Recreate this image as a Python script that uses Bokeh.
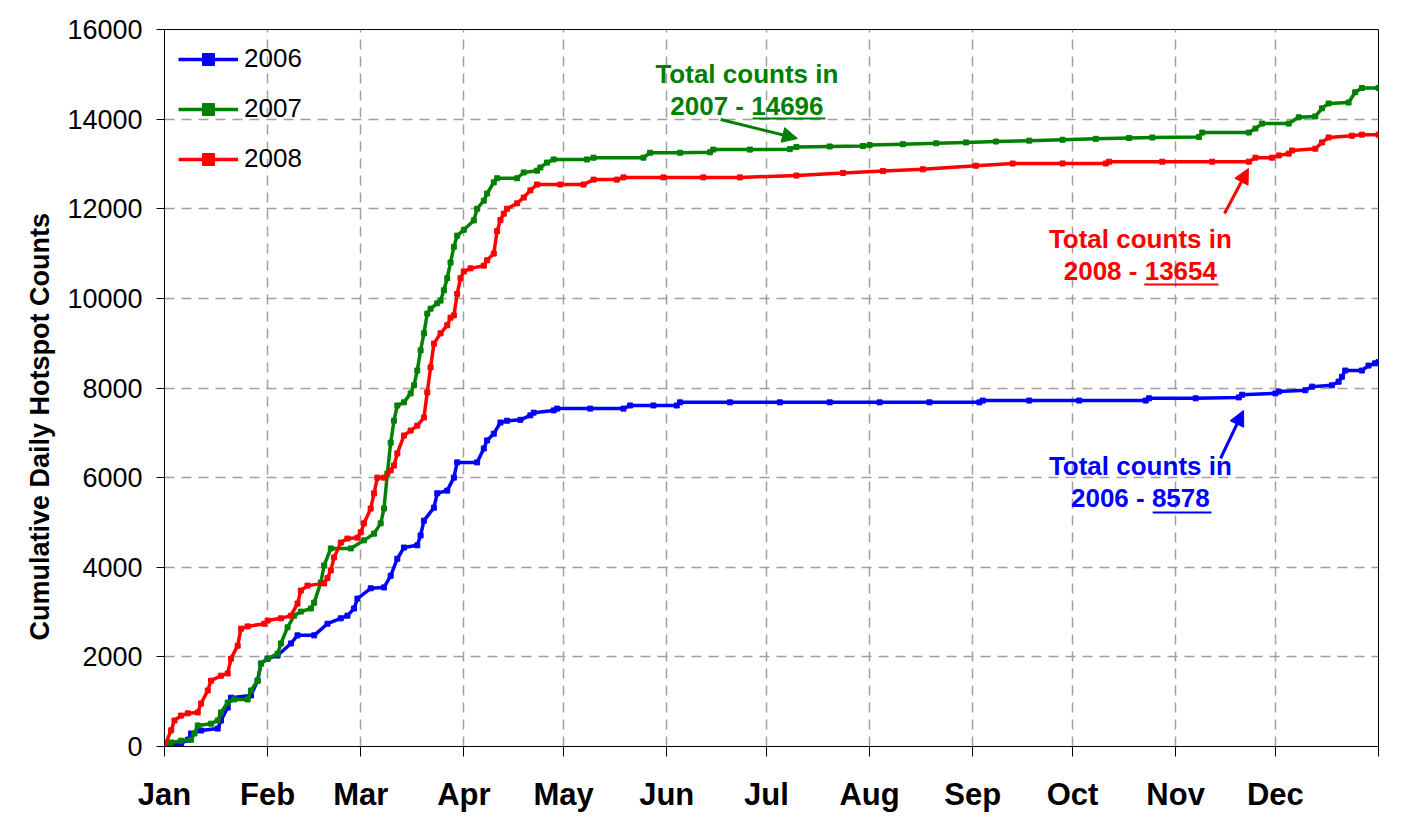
from bokeh.plotting import figure
from bokeh.models import FixedTicker, Legend, LegendItem, Label, Arrow, NormalHead, Title
from bokeh.embed import file_html
from bokeh.resources import INLINE

# ---------------- data (day of year, cumulative hotspot counts) ----------------
days_2006 = [0, 3, 5, 7, 8, 11, 16, 17, 19, 20, 26, 28, 29, 31, 34, 38, 40, 45, 49, 53, 55, 57, 58,
             62, 66, 68, 70, 72, 76, 77, 78, 81, 82, 85, 87, 88, 94, 96, 97, 99, 101, 103, 107, 110,
             111, 117, 118, 128, 138, 140, 147, 154, 155, 170, 185, 200, 215, 230, 245, 246, 260,
             275, 295, 296, 310, 323, 324, 334, 335, 343, 345, 351, 353, 354, 355, 360, 362, 364, 365]
counts_2006 = [0, 30, 70, 150, 290, 357, 400, 580, 870, 1090, 1140, 1470, 1850, 1960, 2030, 2300, 2480,
               2480, 2740, 2860, 2920, 3080, 3300, 3530, 3550, 3810, 4190, 4440, 4490, 4710, 5040, 5330,
               5650, 5710, 6000, 6340, 6340, 6650, 6830, 6980, 7230, 7270, 7290, 7390, 7450, 7500, 7540,
               7540, 7540, 7610, 7610, 7610, 7680, 7680, 7680, 7680, 7680, 7680, 7680, 7720, 7720, 7720,
               7720, 7770, 7770, 7790, 7850, 7880, 7920, 7950, 8030, 8060, 8140, 8250, 8390, 8390, 8500,
               8550, 8578]

days_2007 = [0, 2, 5, 8, 9, 10, 14, 16, 17, 19, 21, 25, 26, 28, 29, 31, 34, 35, 37, 39, 41, 44, 45, 47,
             48, 50, 56, 60, 63, 65, 66, 67, 68, 69, 70, 72, 74, 75, 76, 77, 78, 79, 80, 82, 83, 84, 85,
             86, 87, 88, 90, 93, 94, 96, 97, 99, 100, 106, 108, 112, 113, 115, 117, 127, 129, 144, 146,
             155, 164, 165, 176, 188, 190, 200, 210, 212, 222, 232, 241, 250, 260, 270, 280, 290, 297,
             311, 312, 326, 328, 330, 338, 341, 346, 348, 350, 356, 358, 360, 365]
counts_2007 = [0, 90, 130, 150, 290, 470, 510, 580, 760, 980, 1050, 1050, 1250, 1470, 1850, 1960, 2070,
               2300, 2660, 2920, 3010, 3080, 3210, 3660, 4040, 4420, 4420, 4600, 4750, 4980, 5310, 6090,
               6780, 7270, 7610, 7680, 7880, 8060, 8390, 8840, 9220, 9660, 9770, 9890, 9950, 10180,
               10450, 10800, 11150, 11400, 11530, 11740, 12000, 12180, 12340, 12590, 12680, 12680,
               12810, 12850, 12920, 13030, 13100, 13100, 13140, 13140, 13250, 13250, 13260, 13320,
               13320, 13330, 13380, 13390, 13400, 13420, 13440, 13460, 13480, 13500, 13520, 13540,
               13560, 13580, 13590, 13600, 13700, 13700, 13790, 13900, 13900, 14040, 14060, 14240,
               14350, 14370, 14600, 14696, 14696]

days_2008 = [0, 2, 3, 5, 7, 10, 11, 13, 14, 17, 19, 20, 22, 23, 25, 30, 31, 35, 38, 40, 41, 43, 48, 49,
             50, 51, 53, 55, 58, 59, 60, 62, 63, 64, 66, 68, 69, 70, 72, 74, 76, 78, 79, 80, 81, 83, 85,
             86, 87, 88, 89, 90, 92, 96, 97, 99, 100, 101, 102, 103, 106, 108, 110, 112, 119, 126, 129,
             136, 138, 150, 162, 173, 190, 204, 216, 228, 244, 255, 270, 283, 284, 300, 315, 326, 328,
             333, 335, 338, 339, 346, 348, 350, 357, 360, 365]
counts_2008 = [0, 360, 580, 690, 740, 760, 960, 1250, 1470, 1580, 1630, 1960, 2250, 2630, 2680, 2740,
               2810, 2860, 2920, 3190, 3480, 3590, 3640, 3760, 3930, 4220, 4550, 4640, 4660, 4780, 4980,
               5310, 5650, 6000, 6000, 6160, 6270, 6540, 6940, 7050, 7160, 7340, 7900, 8460, 8990, 9220,
               9400, 9570, 9620, 10100, 10450, 10600, 10670, 10730, 10850, 11000, 11500, 11750, 11890,
               12000, 12120, 12250, 12410, 12540, 12540, 12540, 12650, 12650, 12700, 12700, 12700,
               12700, 12740, 12800, 12840, 12880, 12960, 13010, 13010, 13010, 13050, 13050, 13050,
               13050, 13140, 13140, 13190, 13230, 13300, 13340, 13480, 13590, 13630, 13654, 13654]

month_ticks = [0, 31, 59, 90, 120, 151, 181, 212, 243, 273, 304, 334, 365]
month_labels = ["Jan", "Feb", "Mar", "Apr", "May", "Jun", "Jul", "Aug", "Sep", "Oct", "Nov", "Dec", ""]
y_ticks = [0, 2000, 4000, 6000, 8000, 10000, 12000, 14000, 16000]

series = [
    ("2006", days_2006, counts_2006, "#0000FF"),
    ("2007", days_2007, counts_2007, "#008000"),
    ("2008", days_2008, counts_2008, "#FF0000"),
]

FONT = "Liberation Sans"

p = figure(width=1400, height=815, x_range=(0, 365), y_range=(0, 16000),
           output_backend="svg", toolbar_location=None,
           min_border_left=164, min_border_right=22, min_border_top=29, min_border_bottom=69)
p.background_fill_color = "white"
p.border_fill_color = "white"
p.outline_line_color = "black"
p.outline_line_width = 1

# axes
p.xaxis.ticker = FixedTicker(ticks=month_ticks)
p.xaxis.major_label_overrides = {t: l for t, l in zip(month_ticks, month_labels)}
p.xaxis.major_label_text_font = FONT
p.xaxis.major_label_text_font_style = "bold"
p.xaxis.major_label_text_font_size = "31px"
p.xaxis.major_label_text_color = "black"
p.xaxis.major_tick_out = 10
p.xaxis.major_tick_in = 0
p.xaxis.minor_tick_line_color = None
p.xaxis.major_label_standoff = 20
p.xaxis.axis_line_color = "black"
p.xaxis.major_tick_line_color = "black"

p.yaxis.ticker = FixedTicker(ticks=y_ticks)
p.yaxis.major_label_text_font = FONT
p.yaxis.major_label_text_font_size = "27px"
p.yaxis.major_label_text_color = "black"
p.yaxis.major_tick_out = 8
p.yaxis.major_tick_in = 0
p.yaxis.minor_tick_line_color = None
p.yaxis.major_label_standoff = 14
p.yaxis.axis_line_color = "black"
p.yaxis.major_tick_line_color = "black"

# y-axis title (a left-side title, so that it can sit lower than the frame centre)
p.add_layout(Title(text="Cumulative Daily Hotspot Counts", align="left", offset=106, standoff=20,
                   text_font=FONT, text_font_style="bold", text_font_size="27px",
                   text_color="black"), "left")

# grids
p.xgrid.ticker = FixedTicker(ticks=month_ticks)
p.ygrid.ticker = FixedTicker(ticks=y_ticks)
for g in (p.xgrid, p.ygrid):
    g.grid_line_color = "#a0a0a0"
    g.grid_line_width = 1.5
    g.grid_line_dash = "10 7"

# series
items = []
for name, xs, ys, col in series:
    ln = p.line(xs, ys, line_color=col, line_width=3.5)
    sc = p.scatter(xs, ys, marker="square", size=5, fill_color=col, line_color=col)
    items.append(LegendItem(label=name, renderers=[ln, sc]))

legend = Legend(items=items, location="top_left")
legend.background_fill_alpha = 0
legend.border_line_alpha = 0
legend.label_text_font = FONT
legend.label_text_font_size = "26px"
legend.label_text_color = "black"
legend.glyph_width = 60
legend.glyph_height = 30
legend.label_height = 30
legend.label_standoff = 6
legend.spacing = 19
legend.padding = 0
legend.margin = 14
p.add_layout(legend)

# annotations
annots = [
    # color, center x, baseline1, baseline2, line2 text, underline x0, x1, y, arrow start, arrow end
    ("#008000", 175.1, 15018, 14304, "2007 - 14696", 176.8, 198.7, 14014, (167.2, 13992), (190.3, 13567)),
    ("#FF0000", 293.4, 11336, 10622, "2008 - 13654", 294.6, 316.9, 10310, (318.7, 11894), (325.9, 12898)),
    ("#0000FF", 293.4, 6270, 5556, "2006 - 8578", 297.1, 314.8, 5222, (317.5, 6427), (324.4, 7498)),
]
for col, cx, b1, b2, t2, ux0, ux1, uy, a0, a1 in annots:
    for txt, by in (("Total counts in", b1), (t2, b2)):
        p.add_layout(Label(x=cx, y=by, text=txt, text_align="center", text_baseline="alphabetic",
                           text_font=FONT, text_font_style="bold", text_font_size="26px",
                           text_color=col))
    p.segment(x0=[ux0], y0=[uy], x1=[ux1], y1=[uy], line_color=col, line_width=2)
    p.add_layout(Arrow(x_start=a0[0], y_start=a0[1], x_end=a1[0], y_end=a1[1],
                       line_color=col, line_width=3,
                       end=NormalHead(size=15, fill_color=col, line_color=col)))

open("out.html", "w").write(file_html(p, INLINE))
